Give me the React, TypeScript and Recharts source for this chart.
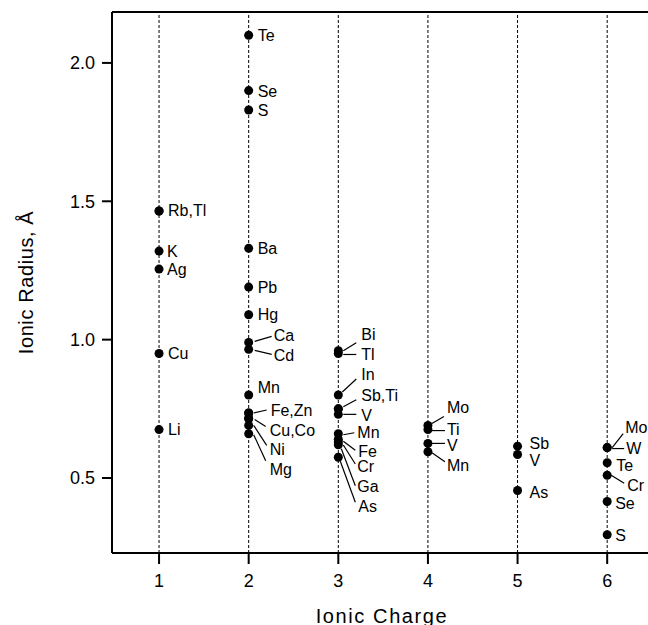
import { ReferenceLine, Scatter, ScatterChart, XAxis, YAxis } from "recharts";

const chargeTicks = [1, 2, 3, 4, 5, 6];
const radiusTicks = [0.5, 1.0, 1.5, 2.0];

const charge1Ions = ["Rb", "Tl", "K", "Ag", "Cu", "Li"];
const charge1Radii = [1.465, 1.465, 1.32, 1.255, 0.95, 0.675];
const charge1Labels = ["Rb,Tl", "K", "Ag", "Cu", "Li"];

const charge2Ions = ["Te", "Se", "S", "Ba", "Pb", "Hg", "Ca", "Cd", "Mn", "Fe", "Zn", "Cu", "Co", "Ni", "Mg"];
const charge2Radii = [2.1, 1.9, 1.83, 1.33, 1.19, 1.09, 0.99, 0.965, 0.8, 0.735, 0.735, 0.715, 0.715, 0.69, 0.66];
const charge2Labels = ["Te", "Se", "S", "Ba", "Pb", "Hg", "Ca", "Cd", "Mn", "Fe,Zn", "Cu,Co", "Ni", "Mg"];

const charge3Ions = ["Bi", "Tl", "In", "Sb", "Ti", "V", "Mn", "Fe", "Cr", "Ga", "As"];
const charge3Radii = [0.96, 0.95, 0.8, 0.75, 0.75, 0.73, 0.66, 0.64, 0.63, 0.62, 0.575];
const charge3Labels = ["Bi", "Tl", "In", "Sb,Ti", "V", "Mn", "Fe", "Cr", "Ga", "As"];

const charge4Ions = ["Mo", "Ti", "V", "Mn"];
const charge4Radii = [0.69, 0.675, 0.625, 0.595];
const charge4Labels = ["Mo", "Ti", "V", "Mn"];

const charge5Ions = ["Sb", "V", "As"];
const charge5Radii = [0.615, 0.585, 0.455];
const charge5Labels = ["Sb", "V", "As"];

const charge6Ions = ["Mo", "W", "Te", "Cr", "Se", "S"];
const charge6Radii = [0.61, 0.61, 0.555, 0.51, 0.415, 0.295];
const charge6Labels = ["Mo", "W", "Te", "Cr", "Se", "S"];

const ionsByCharge = [charge1Ions, charge2Ions, charge3Ions, charge4Ions, charge5Ions, charge6Ions];
const radiiByCharge = [charge1Radii, charge2Radii, charge3Radii, charge4Radii, charge5Radii, charge6Radii];
const labelsByCharge = [charge1Labels, charge2Labels, charge3Labels, charge4Labels, charge5Labels, charge6Labels];

// label placement: [dx, dy, leader line (x1,y1,x2,y2) relative to the dot]
const labelLayout: Record<string, [number, number, number[] | null]> = {
  "1:Rb,Tl": [9, 0, null],
  "1:K": [8, 0, null],
  "1:Ag": [8, 0, null],
  "1:Cu": [9, 0, null],
  "1:Li": [9, 0, null],
  "2:Te": [9, 0, null],
  "2:Se": [9, 1, null],
  "2:S": [9, 1, null],
  "2:Ba": [9, 0, null],
  "2:Pb": [9, 0, null],
  "2:Hg": [9, 0, null],
  "2:Ca": [25, -7, [6, -1, 23, -6]],
  "2:Cd": [25, 6, [6, 1, 23, 5]],
  "2:Mn": [9, -7, null],
  "2:Fe,Zn": [22, -2, [5, 0, 18, -3]],
  "2:Cu,Co": [21, 12, [6, 1, 17, 8]],
  "2:Ni": [21, 24, [5, 0, 18, 20]],
  "2:Mg": [21, 36, [5, 1, 17, 27]],
  "3:Bi": [23, -16, [5, 0, 18, -8]],
  "3:Tl": [23, 1, [5, 1, 18, 1]],
  "3:In": [23, -20, [4, -3, 18, -16]],
  "3:Sb,Ti": [23, -13, [5, -2, 18, -9]],
  "3:V": [23, 1, [5, 0, 18, 0]],
  "3:Mn": [19, -1, [5, 1, 16, -1]],
  "3:Fe": [20, 12, [5, 2, 17, 11]],
  "3:Cr": [19, 24, [5, 3, 17, 22]],
  "3:Ga": [19, 42, [3, 4, 17, 41]],
  "3:As": [20, 49, [2, 4, 17, 45]],
  "4:Mo": [19, -18, [4, -2, 16, -9]],
  "4:Ti": [19, 0, [4, 1, 17, 1]],
  "4:V": [19, 2, [4, 0, 17, 0]],
  "4:Mn": [19, 14, [4, 1, 17, 10]],
  "5:Sb": [12, -3, null],
  "5:V": [12, 6, null],
  "5:As": [12, 2, null],
  "6:Mo": [18, -20, [5, 0, 16, -14]],
  "6:W": [19, 1, [5, 1, 17, 1]],
  "6:Te": [9, 3, null],
  "6:Cr": [20, 10, [4, 0, 17, 8]],
  "6:Se": [8, 2, null],
  "6:S": [8, 1, null]
};

const points = ionsByCharge.flatMap((ions, i) =>
  ions.map((ion, j) => ({ charge: i + 1, radius: radiiByCharge[i][j], ion }))
);

const labelPoints = labelsByCharge.flatMap((labels, i) =>
  labels.map((text) => {
    const anchor = points.find((p) => p.charge === i + 1 && p.ion === text.split(",")[0]);
    return { charge: i + 1, radius: anchor ? anchor.radius : 0, text };
  })
);

const xDomain = [0.475, 6.5];
const yDomain = [0.229, 2.184];
const font = "'Liberation Sans', Arial, Helvetica, sans-serif";

const Dot = (props: any) => <circle cx={props.cx} cy={props.cy} r={4.5} fill="#000" />;

const IonLabel = (props: any) => {
  const { cx, cy, payload } = props;
  const layout = labelLayout[`${payload.charge}:${payload.text}`] || [9, 0, null];
  const [dx, dy, leader] = layout;
  return (
    <g>
      {leader ? (
        <line
          x1={cx + leader[0]}
          y1={cy + leader[1]}
          x2={cx + leader[2]}
          y2={cy + leader[3]}
          stroke="#000"
          strokeWidth={1.2}
        />
      ) : null}
      <text
        x={cx + dx}
        y={cy + dy}
        dominantBaseline="central"
        fontSize={16}
        fontFamily={font}
        fill="#000"
      >
        {payload.text}
      </text>
    </g>
  );
};

export default function App() {
  return (
    <div
      style={{
        position: "absolute",
        left: 0,
        top: 0,
        width: 648,
        height: 625,
        overflow: "hidden",
        background: "#fff"
      }}
    >
      <ScatterChart width={660} height={625} margin={{ top: 12, right: 8, left: 0, bottom: 0 }}>
        {chargeTicks.map((c) => (
          <ReferenceLine key={c} x={c} stroke="#000" strokeWidth={1} strokeDasharray="3 2" />
        ))}
        <ReferenceLine y={yDomain[1]} stroke="#000" strokeWidth={2} />
        <XAxis
          type="number"
          dataKey="charge"
          domain={xDomain}
          ticks={chargeTicks}
          height={72}
          axisLine={{ stroke: "#000", strokeWidth: 2 }}
          tickLine={{ stroke: "#000", strokeWidth: 2 }}
          tickSize={11}
          tickMargin={10}
          tick={{ fill: "#000", fontSize: 18, fontFamily: font }}
          label={{
            content: (p: any) => (
              <text
                x={p.viewBox.x + p.viewBox.width / 2}
                y={p.viewBox.y + 70}
                textAnchor="middle"
                fontSize={20}
                letterSpacing={1.6}
                fontFamily={font}
                fill="#000"
              >
                Ionic Charge
              </text>
            )
          }}
        />
        <YAxis
          type="number"
          dataKey="radius"
          domain={yDomain}
          ticks={radiusTicks}
          width={112}
          axisLine={{ stroke: "#000", strokeWidth: 2 }}
          tickLine={{ stroke: "#000", strokeWidth: 2 }}
          tickSize={10}
          tickMargin={7}
          tickFormatter={(v: number) => v.toFixed(1)}
          tick={{ fill: "#000", fontSize: 18, fontFamily: font }}
          label={{
            content: (p: any) => {
              const x = p.viewBox.x + 33;
              const y = p.viewBox.y + p.viewBox.height / 2;
              return (
                <text
                  x={x}
                  y={y}
                  transform={`rotate(-90 ${x} ${y})`}
                  textAnchor="middle"
                  fontSize={20}
                  letterSpacing={0.6}
                  fontFamily={font}
                  fill="#000"
                >
                  Ionic Radius, Å
                </text>
              );
            }
          }}
        />
        <Scatter data={points} shape={Dot} isAnimationActive={false} />
        <Scatter data={labelPoints} shape={IonLabel} isAnimationActive={false} />
      </ScatterChart>
    </div>
  );
}
